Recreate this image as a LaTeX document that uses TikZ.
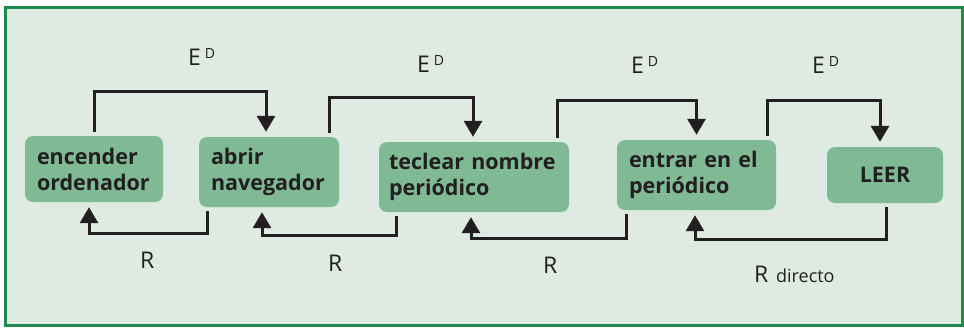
\documentclass[tikz,border=0pt]{standalone}
\usepackage{fontspec}
\setmainfont{Open Sans}
\usetikzlibrary{arrows.meta}
\definecolor{frame green}{HTML}{1B8A4C}
\definecolor{back green}{HTML}{DFEBE2}
\definecolor{box green}{HTML}{7FBA95}
\definecolor{ink}{HTML}{231F20}

\begin{document}
\begin{tikzpicture}[x=1pt, y=-1pt]
        \tikzset{
        step node/.style={fill=box green,rounded corners=8pt,align=left,inner xsep=12pt,inner ysep=0pt,
          text=ink,font=\fontsize{21.5}{26}\selectfont\bfseries},
        flow edge/.style={draw=ink,line width=3pt,-{Triangle[width=18pt,length=16pt]},shorten <=4pt,shorten >=5pt},
        flow label/.style={anchor=base west,inner sep=0,text=ink,font=\fontsize{23}{23}\selectfont}
        }
        \useasboundingbox (0,0) rectangle (964,330);
        \draw[frame green,line width=3pt,fill=back green] (5,7) rectangle (962,325);

        \node[step node,text width=114pt,minimum height=66pt] (1) at (94,169) {encender\\ordenador};
        \node[step node,text width=116pt,minimum height=70pt] (2) at (269,172) {abrir\\navegador};
        \node[step node,text width=170pt,inner xsep=10pt,minimum height=70pt] (3) at (474,177) {teclear nombre\\periódico};
        \node[step node,text width=135pt,minimum height=70pt] (4) at (696.5,175) {entrar en el\\periódico};
        \node[step node,text width=92pt,minimum height=56pt,align=center] (5) at (885,175) {LEER};

        % E^D arrows
        \draw[flow edge] (1.north) -- ++(0,-44) -| ([xshift=-3pt]2.north);
        \draw[flow edge] ([xshift=60pt]2.north) -- ++(0,-39) -| ([xshift=-1pt]3.north);
        \draw[flow edge] ([xshift=83pt]3.north) -- ++(0,-41) -| (4.north);
        \draw[flow edge] ([xshift=70.5pt]4.north) -- ++(0,-39) -| ([xshift=-5pt]5.north);

        % R arrows
        \draw[flow edge] ([xshift=-62pt]2.south) -- ++(0,26) -| ([xshift=-5pt]1.south);
        \draw[flow edge] ([xshift=-78pt]3.south) -- ++(0,23) -| ([xshift=-7pt]2.south);
        \draw[flow edge] ([xshift=-70.5pt]4.south) -- ++(0,28) -| ([xshift=-3pt]3.south);
        \draw[flow edge] ([xshift=1pt]5.south) -- ++(0,36) -| ([xshift=-1.5pt]4.south);

        \node[flow label] (e1) at (188,65) {E\,\raisebox{7pt}{\fontsize{14}{14}\selectfont D}};
        \node[flow label] (e2) at (417,72) {E\,\raisebox{7pt}{\fontsize{14}{14}\selectfont D}};
        \node[flow label] (e3) at (631,73) {E\,\raisebox{7pt}{\fontsize{14}{14}\selectfont D}};
        \node[flow label] (e4) at (812,73) {E\,\raisebox{7pt}{\fontsize{14}{14}\selectfont D}};
        \node[flow label] (r1) at (140,268) {R};
        \node[flow label] (r2) at (328,271) {R};
        \node[flow label] (r3) at (543,273) {R};
        \node[flow label] (r4) at (754,282) {R\,\,{\fontsize{18}{18}\selectfont directo}};
    \end{tikzpicture}
\end{document}
